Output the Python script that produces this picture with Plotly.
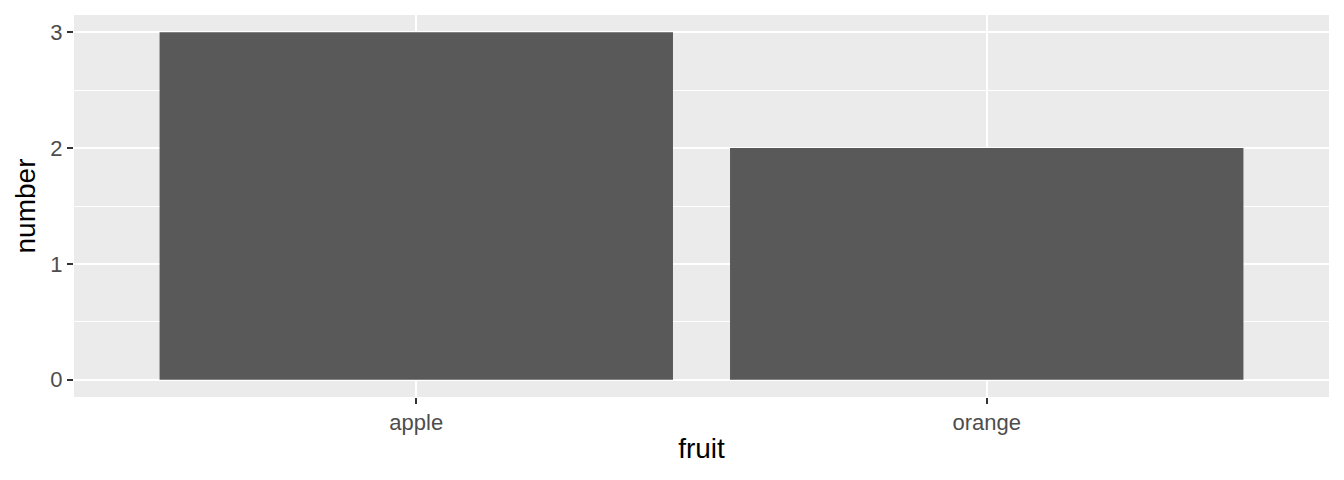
import plotly.graph_objects as go

fruit = ["apple", "orange"]
number = [3, 2]
y_ticks = [0, 1, 2, 3]
y_minor = [0.5, 1.5, 2.5]

# page body has an 8px margin, so the figure is drawn a bit smaller
fig = go.Figure()
fig.add_trace(
    go.Bar(
        x=[0, 1], y=number, width=0.9,
        marker=dict(color="#595959", line=dict(width=0)),
    )
)

fig.update_xaxes(
    range=[-0.6, 1.6],
    tickvals=[0, 1], ticktext=fruit,
    showgrid=True, gridcolor="white", gridwidth=2.2,
    ticks="outside", ticklen=6, tickwidth=2.2, tickcolor="#333333",
    tickfont=dict(family="Liberation Sans", size=22, color="#4d4d4d"),
    title=dict(text="fruit", font=dict(family="Liberation Sans", size=28, color="black"), standoff=3),
    zeroline=False, showline=False,
)
fig.update_yaxes(
    range=[-0.15, 3.15],
    tickvals=y_ticks,
    showgrid=True, gridcolor="white", gridwidth=2.2,
    minor=dict(tickvals=y_minor, showgrid=True, gridcolor="white", gridwidth=1.1, ticks=""),
    ticks="outside", ticklen=6, tickwidth=2.2, tickcolor="#333333",
    tickfont=dict(family="Liberation Sans", size=22, color="#4d4d4d"),
    title=dict(text="number", font=dict(family="Liberation Sans", size=28, color="black"), standoff=6),
    zeroline=False, showline=False,
)
fig.update_layout(
    width=1336, height=472,
    showlegend=False,
    plot_bgcolor="#ebebeb",
    paper_bgcolor="white",
    margin=dict(l=66, r=15, t=7, b=83, autoexpand=False),
)
fig.write_html("out.html")
